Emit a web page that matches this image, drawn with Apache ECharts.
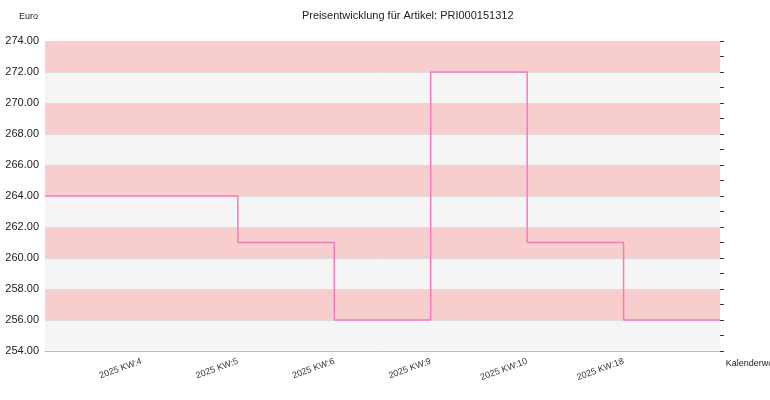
<!DOCTYPE html>
<html><head><meta charset="utf-8">
<script src="https://cdn.jsdelivr.net/npm/echarts@6/dist/echarts.min.js"></script>
<style>html,body{margin:0;padding:0;background:#fff}#c{width:770px;height:400px}</style>
</head><body><div id="c"></div>
<script>
const categories = ['', '2025 KW:4', '2025 KW:5', '2025 KW:6', '2025 KW:9', '2025 KW:10', '2025 KW:18', ''];
const prices = [264, 264, 261, 256, 272, 261, 256, 256];
const yTicks = [254, 274, 2];
const chart = echarts.init(document.getElementById('c'));
const font = 'Liberation Sans, Arial, sans-serif';
chart.setOption({
  animation: false,
  title: { text: 'Preisentwicklung für Artikel: PRI000151312', left: 297, top: 5,
    textStyle: { fontSize: 11, fontWeight: 'normal', color: '#222', fontFamily: font } },
  grid: { left: 45, right: 50, top: 41, bottom: 49, outerBoundsMode: 'none', containLabel: false },
  xAxis: { type: 'category', data: categories, boundaryGap: false,
    name: 'Kalenderwoche', nameLocation: 'end', nameGap: 5,
    nameTextStyle: { fontSize: 9, color: '#222', fontFamily: font, verticalAlign: 'top', padding: [8, 0, 0, -45] },
    axisLine: { lineStyle: { color: '#bbb' } }, axisTick: { show: false },
    axisLabel: { rotate: 20, fontSize: 9, color: '#333', fontFamily: font, margin: 10,
      formatter: v => v } },
  yAxis: [
    { type: 'value', min: yTicks[0], max: yTicks[1], interval: yTicks[2],
      name: 'Euro', nameLocation: 'end', nameGap: 20,
      nameTextStyle: { fontSize: 9, color: '#222', fontFamily: font, align: 'right', padding: [0, 7, 0, 0] },
      axisLine: { show: false }, axisTick: { show: false },
      axisLabel: { fontSize: 11, color: '#222', fontFamily: font, formatter: v => v.toFixed(2), margin: 6 },
      splitLine: { show: true, lineStyle: { color: '#ddd' } },
      splitArea: { show: true, areaStyle: { color: ['#f5f5f5', '#f8cdcd'] } } },
    { type: 'value', position: 'right', min: yTicks[0], max: yTicks[1], interval: 1,
      axisLine: { show: false }, axisLabel: { show: false }, splitLine: { show: false },
      axisTick: { show: true, inside: false, length: 4, lineStyle: { color: '#333' } } }
  ],
  series: [{ type: 'line', step: 'end', data: prices, symbol: 'none',
    lineStyle: { color: '#f07cc0', width: 1.5 } }]
});
</script></body></html>
